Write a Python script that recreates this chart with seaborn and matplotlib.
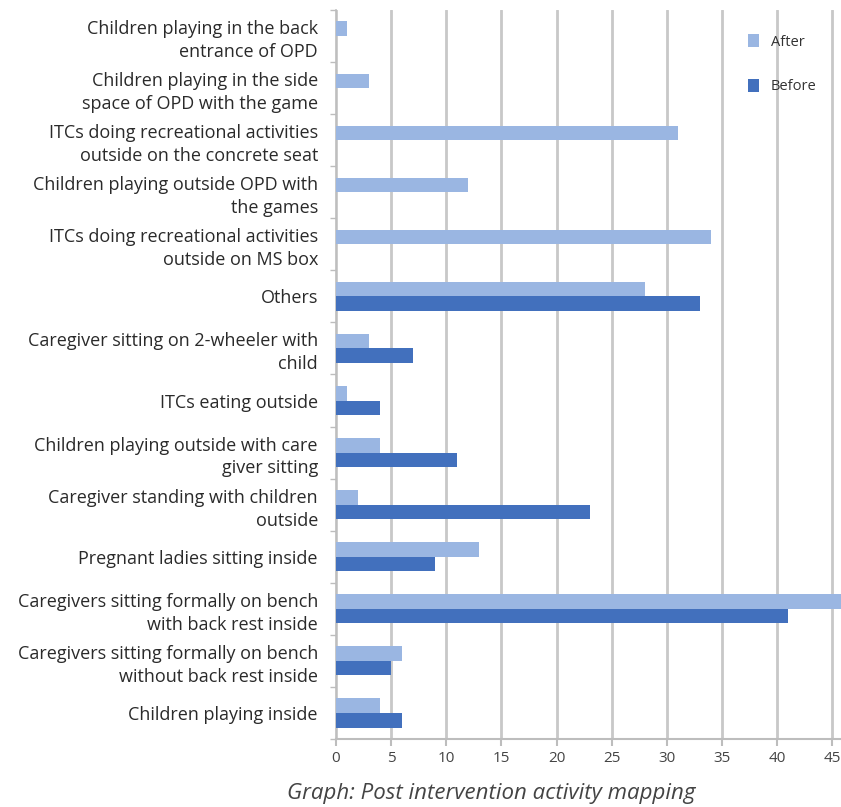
import matplotlib
matplotlib.use("Agg")
import matplotlib.pyplot as plt
import pandas as pd
import seaborn as sns

# activities, top to bottom as in the chart
activities = [
    "Children playing in the back\nentrance of OPD",
    "Children playing in the side\nspace of OPD with the game",
    "ITCs doing recreational activities\noutside on the concrete seat",
    "Children playing outside OPD with\nthe games",
    "ITCs doing recreational activities\noutside on MS box",
    "Others",
    "Caregiver sitting on 2-wheeler with\nchild",
    "ITCs eating outside",
    "Children playing outside with care\ngiver sitting",
    "Caregiver standing with children\noutside",
    "Pregnant ladies sitting inside",
    "Caregivers sitting formally on bench\nwith back rest inside",
    "Caregivers sitting formally on bench\nwithout back rest inside",
    "Children playing inside",
]
after = [1, 3, 31, 12, 34, 28, 3, 1, 4, 2, 13, 47, 6, 4]
before = [0, 0, 0, 0, 0, 33, 7, 4, 11, 23, 9, 41, 5, 6]
x_ticks = [0, 5, 10, 15, 20, 25, 30, 35, 40, 45]

df = pd.DataFrame({"activity": activities * 2,
                   "count": after + before,
                   "period": ["After"] * len(after) + ["Before"] * len(before)})

sns.set_style("white")
plt.rcParams["font.family"] = ["Open Sans", "DejaVu Sans"]

fig = plt.figure(figsize=(8.41, 8.07), dpi=100)
ax = fig.add_axes([0.3995, 0.0843, 0.6005, 0.9033])

sns.barplot(data=df, y="activity", x="count", hue="period", order=activities,
            hue_order=["After", "Before"], palette=["#9ab6e2", "#4270bd"],
            saturation=1, width=0.56, orient="h", linewidth=0, ax=ax, zorder=3)

ax.set_xlim(0, 45.8)
ax.set_xticks(x_ticks)
ax.set_xlabel("")
ax.set_ylabel("")
ax.grid(axis="x", color="#c8c8c8", linewidth=2, zorder=0)
ax.grid(axis="y", visible=False)

for s in ["top", "right"]:
    ax.spines[s].set_visible(False)
ax.spines["left"].set_color("#bdbdbd")
ax.spines["bottom"].set_color("#bdbdbd")
ax.spines["left"].set_linewidth(1.2)
ax.spines["bottom"].set_linewidth(1.5)

# group separator ticks on the y axis, as in the original
ax.set_yticks(range(len(activities)))
ax.set_yticklabels(activities, fontsize=13, color="#2a2a2a", linespacing=1.35)
ax.tick_params(axis="y", which="major", length=0, pad=13)
ax.set_yticks([i - 0.5 for i in range(len(activities) + 1)], minor=True)
ax.tick_params(axis="y", which="minor", left=True, length=4, color="#bdbdbd", width=1)
ax.tick_params(axis="x", bottom=True, length=5, color="#bdbdbd", width=1.5,
               labelsize=11, labelcolor="#444444", pad=4)

leg = ax.legend(loc="upper left", bbox_to_anchor=(0.79, 0.985), frameon=False,
                fontsize=10.5, labelspacing=2.0, handlelength=0.75,
                handleheight=1.0, handletextpad=0.8)
for t in leg.get_texts():
    t.set_color("#333333")

fig.text(0.584, 0.004, "Graph: Post intervention activity mapping", ha="center",
         va="bottom", fontsize=16, style="italic", color="#444444")

fig.savefig("out.png", dpi=100)
